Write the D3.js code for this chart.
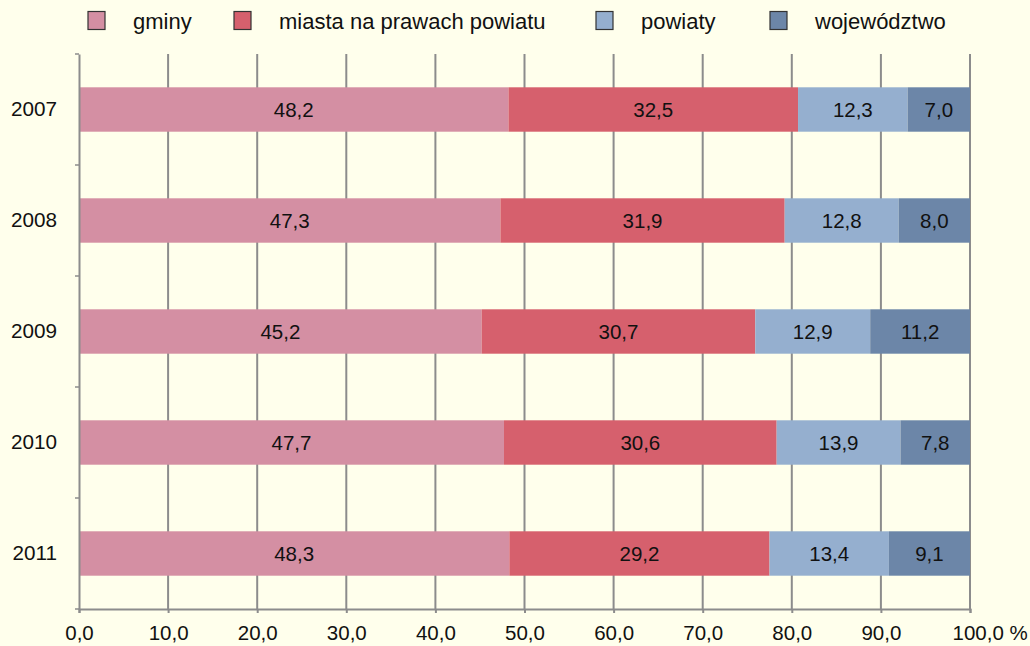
<!DOCTYPE html>
<html><head><meta charset="utf-8">
<script src="https://cdn.jsdelivr.net/npm/d3@7"></script>
<style>body{margin:0;background:#FFFFEC;}svg{display:block;font-family:"Liberation Sans",Arial,sans-serif;}</style>
</head><body><svg id="c" width="1030" height="646"></svg>
<script>
const years = ["2007","2008","2009","2010","2011"];
const seriesNames = ["gminy","miasta na prawach powiatu","powiaty","województwo"];
const gminy = [48.2,47.3,45.2,47.7,48.3];
const miasta = [32.5,31.9,30.7,30.6,29.2];
const powiaty = [12.3,12.8,12.9,13.9,13.4];
const wojewodztwo = [7.0,8.0,11.2,7.8,9.1];
const colors = ["#D48FA3","#D6606D","#95AFCF","#6C86A8"];
const xTicks = [0,10,20,30,40,50,60,70,80,90,100];

const svg = d3.select("#c");
svg.append("rect").attr("width",1030).attr("height",646).attr("fill","#FFFFEC");
const L=79,R=970,T=54,B=609;
const x = d3.scaleLinear().domain([0,100]).range([L,R]);
const y = d3.scaleBand().domain(years).range([T,B]).paddingInner(0.6).paddingOuter(0.3);
const yb = d3.scaleBand().domain(years).range([T,B]);
const fmt = v => v.toFixed(1).replace(".",",");

// gridlines
svg.append("g").selectAll("line").data(xTicks.slice(1)).join("line")
  .attr("x1",d=>x(d)).attr("x2",d=>x(d)).attr("y1",T).attr("y2",B)
  .attr("stroke","#8C8C8C").attr("stroke-width",2);

const data = years.map((yr,i)=>({year:yr,vals:[gminy[i],miasta[i],powiaty[i],wojewodztwo[i]]}));
const segs=[];
data.forEach(d=>{let acc=0;d.vals.forEach((v,k)=>{segs.push({year:d.year,k,v,x0:acc,x1:acc+v});acc+=v;});});
const g = svg.append("g");
g.selectAll("rect").data(segs).join("rect")
  .attr("x",d=>x(d.x0)).attr("width",d=>x(Math.min(d.x1,100))-x(d.x0))
  .attr("y",d=>y(d.year)).attr("height",y.bandwidth()).attr("fill",d=>colors[d.k]);
g.selectAll("text").data(segs).join("text")
  .attr("x",d=>(x(d.x0)+x(Math.min(d.x1,100)))/2).attr("y",d=>y(d.year)+y.bandwidth()/2)
  .attr("dy","0.36em").attr("text-anchor","middle").attr("font-size",20.5).attr("fill","#111")
  .text(d=>fmt(d.v));

// axes
const ax = svg.append("g").attr("transform",`translate(0,${B})`)
  .call(d3.axisBottom(x).tickValues(xTicks).tickSize(4).tickFormat(d=>d===100?"100,0 %":fmt(d)));
ax.select(".domain").attr("stroke","#8C8C8C").attr("stroke-width",2);
ax.selectAll(".tick line").attr("stroke","#8C8C8C").attr("stroke-width",2);
ax.selectAll(".tick text").attr("font-size",20.5).attr("fill","#111").attr("y",16).attr("dy","0.71em")
  .attr("font-family","Liberation Sans, Arial, sans-serif")
  .attr("text-anchor",d=>d===100?"start":"middle")
  .attr("x",d=>d===100?-18:0);

const ay = svg.append("g").attr("transform",`translate(${L},0)`)
  .call(d3.axisLeft(yb).tickSize(0).tickPadding(22));
ay.select(".domain").attr("stroke","#8C8C8C").attr("stroke-width",2);
ay.selectAll(".tick text").attr("font-size",20.7).attr("fill","#111")
  .attr("font-family","Liberation Sans, Arial, sans-serif");
// small boundary ticks on y axis
svg.append("g").selectAll("line").data(years.concat(["end"])).join("line")
  .attr("x1",L-4).attr("x2",L).attr("y1",(d,i)=>T+i*yb.step()).attr("y2",(d,i)=>T+i*yb.step())
  .attr("stroke","#8C8C8C").attr("stroke-width",1.5);

// legend
const legX=[88,234,596,770];
const lg = svg.append("g");
seriesNames.forEach((n,i)=>{
  lg.append("rect").attr("x",legX[i]).attr("y",11.5).attr("width",17).attr("height",18)
    .attr("fill",colors[i]).attr("stroke","#333").attr("stroke-width",1.2);
  lg.append("text").attr("x",legX[i]+45).attr("y",21).attr("dy","0.36em")
    .attr("font-size",22).attr("fill","#111").text(n);
});
</script></body></html>
